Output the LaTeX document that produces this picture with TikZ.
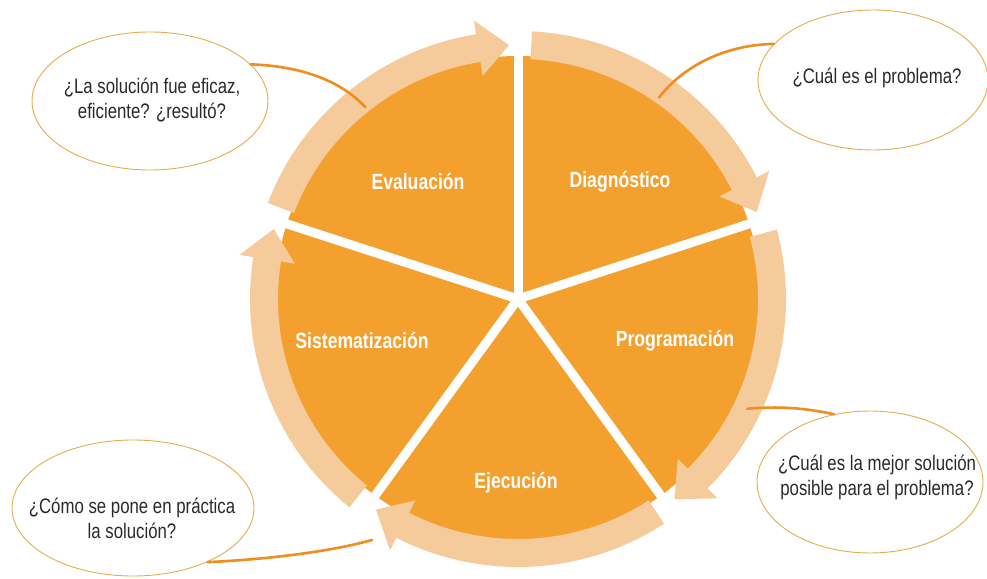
\documentclass[tikz,border=0pt]{standalone}
\usepackage{fontspec}
\usetikzlibrary{shapes.geometric}
\newfontfamily\condfont[FakeStretch=0.8]{Liberation Sans}
\newfontfamily\labfont[FakeStretch=0.8]{Liberation Sans}
\definecolor{seg}{HTML}{F3A02E}
\definecolor{band}{HTML}{F6CB9C}
\definecolor{conn}{HTML}{EE8E1C}
\definecolor{ell}{HTML}{E3AD4E}
\definecolor{txt}{HTML}{2A2A2A}
\newcommand\ringarrow[2]{%
  \fill[band] ([shift={(#1:268)}]C) arc[start angle=#1, end angle={#2+7}, radius=268]
    -- ([shift={({#2+7}:282)}]C) -- ([shift={(#2:254)}]C) -- ([shift={({#2+7}:226)}]C)
    -- ([shift={({#2+7}:240)}]C) arc[start angle={#2+7}, end angle=#1, radius=240] -- cycle;}
\begin{document}
\begin{tikzpicture}[x=1pt,y=1pt,
  seglab/.style={text=white, font=\labfont\bfseries\fontsize{22}{26}\selectfont},
  callout/.style={ellipse, draw=ell, line width=0.9pt, fill=white, text=txt,
     inner sep=0pt, align=center},
  qtext/.style={align=center, text=txt, font=\condfont\fontsize{21}{25}\selectfont},
  connline/.style={conn, line width=2.6pt, line cap=round}]
\useasboundingbox (0,0) rectangle (987,578);
\coordinate (C) at (518,279);
% disc
\fill[seg] (C) circle[radius=243];
% gaps
\foreach \a in {18,90,162,234,306}
  \draw[white, line width=9pt] (C) -- ++(\a:290);
% ring arrows
\ringarrow{159}{92}
\ringarrow{87}{20}
\ringarrow{15}{-52}
\ringarrow{-57}{-124}
\ringarrow{231}{164}
% segment labels
\node[seglab] (ev) at (418,396) {Evaluación};
\node[seglab] (dg) at (620,396) {Diagnóstico};
\node[seglab] (si) at (362,237) {Sistematización};
\node[seglab] (pr) at (675,237) {Programación};
\node[seglab] (ej) at (516,95) {Ejecución};
% callouts
\node[callout, minimum width=236pt, minimum height=138pt] (tl) at (150,477) {};
\node[callout, minimum width=230pt, minimum height=140pt] (tr) at (873,498) {};
\node[callout, minimum width=226pt, minimum height=142pt] (br) at (870,96) {};
\node[callout, minimum width=242pt, minimum height=136pt] (bl) at (133,70) {};
\node[qtext] (tlt) at (152,478) {¿La solución fue eficaz,\\eficiente? ¿resultó?};
\node[qtext] (trt) at (877,500) {¿Cuál es el problema?};
\node[qtext] (brt) at (877,101) {¿Cuál es la mejor solución\\posible para el problema?};
\node[qtext] (blt) at (132,60) {¿Cómo se pone en práctica\\la solución?};
% connector end points on the ring
\coordinate (rtl) at ([shift={(128.5:245)}]C);
\coordinate (rtr) at ([shift={(55:246)}]C);
\coordinate (rbr) at ([shift={(-25.6:254)}]C);
\coordinate (rbl) at (372,38);
% connectors
\draw[connline] (tl.20) .. controls (300,512) and (340,498) .. (rtl);
\draw[connline] (tr.160) .. controls (720,533) and (680,508) .. (rtr);
\draw[connline] (rbr) .. controls (780,172) and (805,170) .. (br.118);
\draw[connline] (bl.-36) .. controls (260,18) and (330,26) .. (rbl);
\end{tikzpicture}
\end{document}
